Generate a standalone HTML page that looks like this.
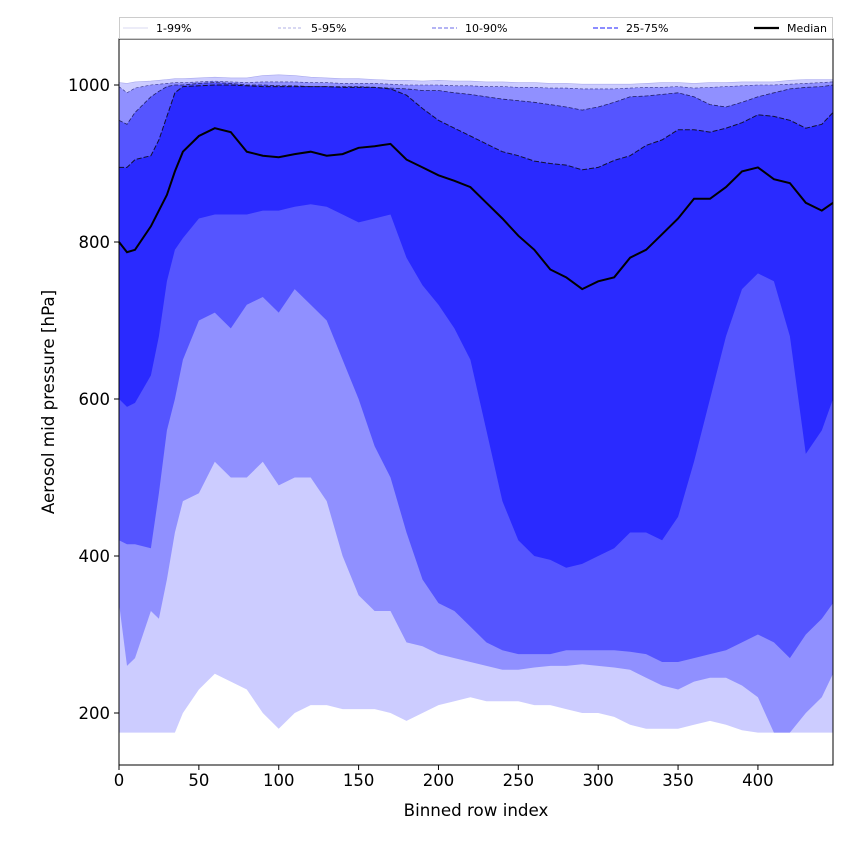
<!DOCTYPE html>
<html><head><meta charset="utf-8"><style>
body{margin:0;background:#fff;font-family:"Liberation Sans","DejaVu Sans",sans-serif}
svg text{font-family:"DejaVu Sans","Liberation Sans",sans-serif}
</style></head><body>
<svg id="chart" width="850" height="850" viewBox="0 0 850 850">
<rect x="0" y="0" width="850" height="850" fill="#fff"/>
<g id="plot"></g>
<g id="axes"></g>
</svg>
<script>
const xs=[0,5,10,20,25,30,35,40,50,60,70,80,90,100,110,120,130,140,150,160,170,180,190,200,210,220,230,240,250,260,270,280,290,300,310,320,330,340,350,360,370,380,390,400,410,420,430,440,447];
const p99=[1003,1002,1004,1005,1006,1007,1008,1008,1009,1010,1009,1009,1012,1013,1012,1010,1009,1008,1008,1007,1006,1006,1005,1006,1005,1005,1004,1004,1003,1003,1002,1002,1001,1001,1001,1001,1002,1003,1003,1002,1003,1003,1004,1004,1004,1006,1007,1007,1007];
const p95=[998,990,996,1000,1001,1002,1003,1003,1004,1005,1004,1003,1004,1004,1004,1003,1003,1002,1002,1002,1001,1000,1000,1000,999,999,998,998,997,997,996,996,995,995,995,996,997,997,998,996,997,998,999,1000,1000,1001,1002,1003,1004];
const p90=[955,950,965,985,992,998,1000,1000,1002,1003,1002,1000,1000,999,999,998,998,998,998,997,996,995,993,993,990,988,985,982,980,978,975,972,968,972,978,985,986,988,990,985,975,972,978,985,990,995,997,998,1000];
const p75=[895,895,905,910,930,960,990,998,999,1000,1000,999,998,998,998,998,998,997,997,997,995,987,970,955,945,935,925,915,910,903,900,898,892,895,904,910,923,930,943,943,940,945,952,962,960,955,945,950,965];
const med=[800,787,790,820,840,860,890,915,935,945,940,915,910,908,912,915,910,912,920,922,925,905,895,885,878,870,850,830,808,790,765,755,740,750,755,780,790,810,830,855,855,870,890,895,880,875,850,840,850];
const p25=[600,590,595,630,680,750,790,805,830,835,835,835,840,840,845,848,845,835,825,830,835,780,745,720,690,650,560,470,420,400,395,385,390,400,410,430,430,420,450,520,600,680,740,760,750,680,530,560,600];
const p10=[420,415,415,410,480,560,600,650,700,710,690,720,730,710,740,720,700,650,600,540,500,430,370,340,330,310,290,280,275,275,275,280,280,280,280,278,275,265,265,270,275,280,290,300,290,270,300,320,340];
const p5=[340,260,270,330,320,370,430,470,480,520,500,500,520,490,500,500,470,400,350,330,330,290,285,275,270,265,260,255,255,258,260,260,262,260,258,255,245,235,230,240,245,245,235,220,175,175,200,220,250];
const p1=[175,175,175,175,175,175,175,200,230,250,240,230,200,180,200,210,210,205,205,205,200,190,200,210,215,220,215,215,215,210,210,205,200,200,195,185,180,180,180,185,190,185,178,175,175,175,175,175,175];
const xTicks=[0,50,100,150,200,250,300,350,400];
const yTicks=[200,400,600,800,1000];
const X0=119,X1=833,Y0=39,Y1=765,XMAX=447;
const sx=v=>X0+v*(X1-X0)/XMAX;
const sy=v=>85+(1000-v)*0.785;
const NS='http://www.w3.org/2000/svg';
function mk(t,a,p){const e=document.createElementNS(NS,t);for(const k in a)e.setAttribute(k,a[k]);p.appendChild(e);return e;}
const plot=document.getElementById('plot'),axes=document.getElementById('axes');
function band(lo,hi,col,name){
  let d='M'+xs.map((x,i)=>sx(x).toFixed(1)+','+sy(hi[i]).toFixed(1)).join('L');
  for(let i=xs.length-1;i>=0;i--)d+='L'+sx(xs[i]).toFixed(1)+','+sy(lo[i]).toFixed(1);
  const e=mk('path',{d:d+'Z',fill:col},plot);
  
  
}
function line(arr,col,w,dash,name){
  const e=mk('path',{d:'M'+xs.map((x,i)=>sx(x).toFixed(1)+','+sy(arr[i]).toFixed(1)).join('L'),fill:'none',stroke:col,'stroke-width':w,'stroke-dasharray':dash},plot);
  
  
}
band(p1,p99,'#ccccff','band-1-99');
band(p5,p95,'#9090ff','band-5-95');
band(p10,p90,'#5555ff','band-10-90');
band(p25,p75,'#2a2aff','band-25-75');
line(p99,'#aaaaee',0.6,'','line-p99');
line(p95,'#333388',0.6,'3,2','line-p95');
line(p90,'#222266',0.8,'4,2','line-p90');
line(p75,'#111133',1,'5,2','line-p75');
line(med,'#000',2,'','median-line');
let fr=mk('rect',{x:X0,y:Y0,width:X1-X0,height:Y1-Y0,fill:'none',stroke:'#000','stroke-width':1},axes);

xTicks.forEach(t=>{const x=sx(t);mk('line',{x1:x,x2:x,y1:Y1,y2:Y1+5,stroke:'#000'},axes);
 const e=mk('text',{x:x,y:Y1+21,'text-anchor':'middle','font-size':16.5},axes);e.textContent=t;
 });
yTicks.forEach(t=>{const y=sy(t);mk('line',{x1:X0-5,x2:X0,y1:y,y2:y,stroke:'#000'},axes);
 const e=mk('text',{x:X0-9,y:y+6,'text-anchor':'end','font-size':16.5},axes);e.textContent=t;
 });
let xt=mk('text',{x:(X0+X1)/2,y:816,'text-anchor':'middle','font-size':16.7},axes);xt.textContent='Binned row index';

let yt=mk('text',{x:54,y:402,'text-anchor':'middle','font-size':16.7,transform:'rotate(-90 54 402)'},axes);yt.textContent='Aerosol mid pressure [hPa]';

let lg=mk('rect',{x:119.5,y:17.5,width:713,height:21,fill:'#fff',stroke:'#ccc'},axes);

const leg=[['1-99%',123,'#ccccee',0.8,''],['5-95%',278,'#9999dd',0.8,'3,2'],['10-90%',432,'#8888ee',1.2,'4,2'],['25-75%',593,'#6666ff',1.6,'5,2'],['Median',754,'#000',2.2,'']];
leg.forEach(l=>{mk('line',{x1:l[1],x2:l[1]+25,y1:28,y2:28,stroke:l[2],'stroke-width':l[3],'stroke-dasharray':l[4]},axes);
 const e=mk('text',{x:l[1]+33,y:32,'font-size':11},axes);e.textContent=l[0];
 });
</script>
</body></html>
